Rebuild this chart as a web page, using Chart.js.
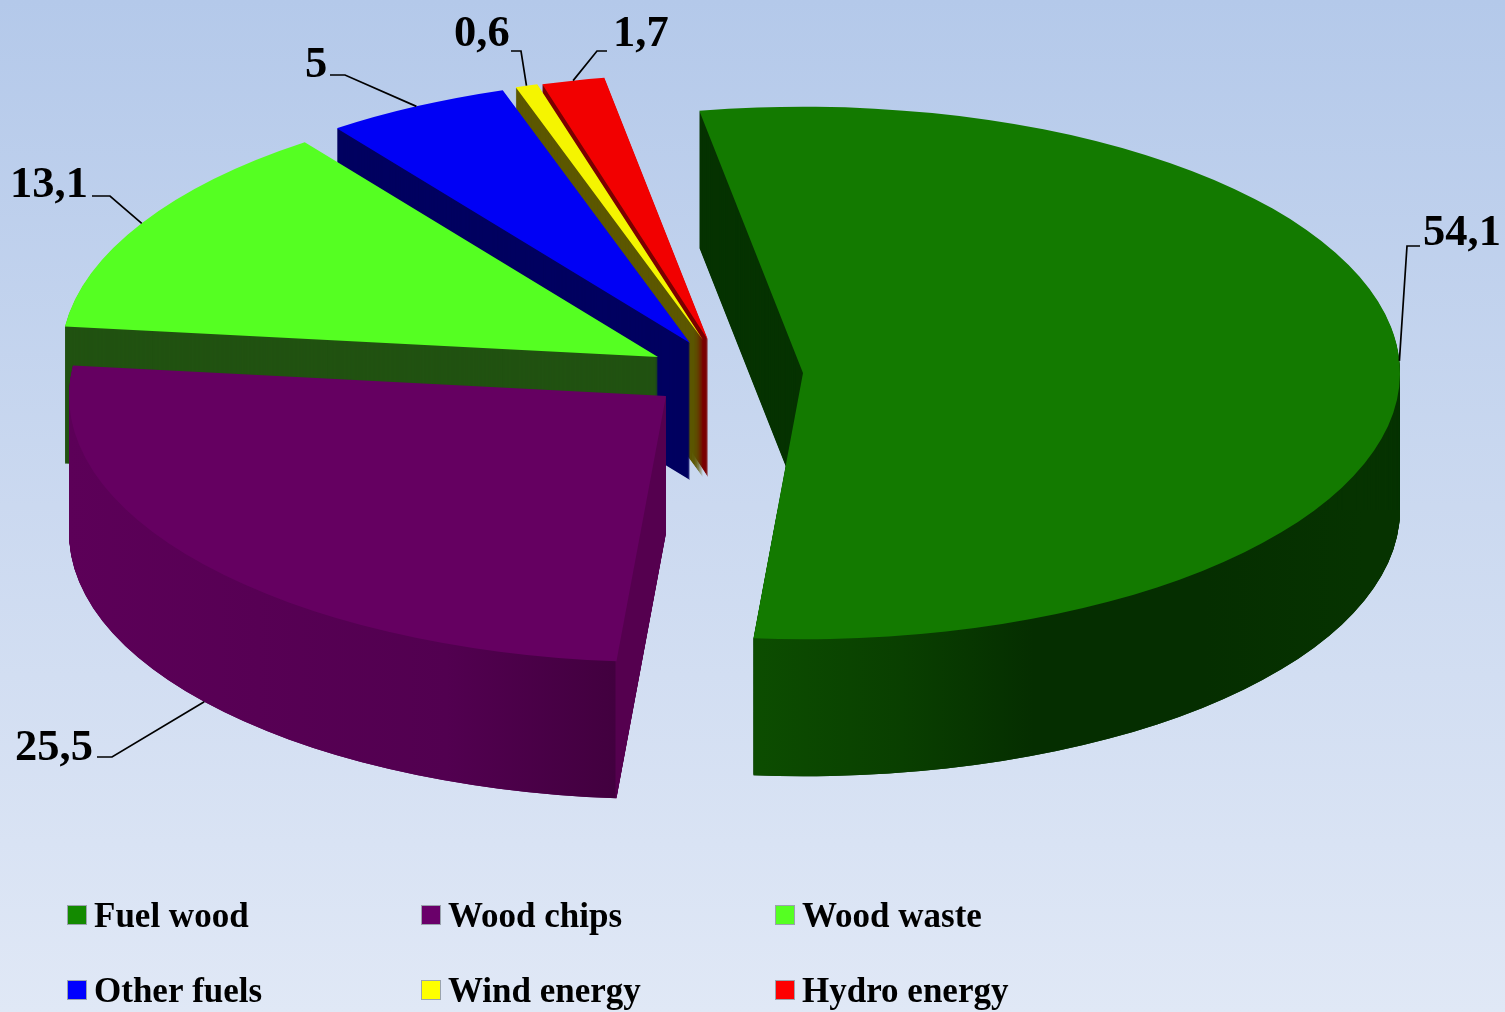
<!DOCTYPE html>
<html>
<head>
<meta charset="utf-8">
<title>Energy sources</title>
<script src="https://cdn.jsdelivr.net/npm/chart.js@4/dist/chart.umd.min.js"></script>
<style>
  html, body { margin: 0; padding: 0; }
  body { width: 1505px; height: 1012px; overflow: hidden; background: linear-gradient(180deg, #b4c9ea 0%, #cbd9f0 50%, #e0e8f6 100%); }
  canvas { display: block; }
</style>
</head>
<body>
<canvas id="pie" width="1505" height="1012"></canvas>
<script>
// === Data ===
const categories = ["Fuel wood", "Wood chips", "Wood waste", "Other fuels", "Wind energy", "Hydro energy"];
const shares = [54.1, 25.5, 13.1, 5, 0.6, 1.7];

// === Colours ===
const topColors = ["#137a00", "#650061", "#55ff22", "#0000f5", "#f5f500", "#f20000"];
const legendColors = ["#138a00", "#6a006a", "#55ff22", "#0000ff", "#ffff00", "#ff0000"];
const sideColors = ["#063300", "#55004f", "#215211", "#000060", "#5c5700", "#7a0000"];

// Shading of the curved wall, x measured from the slice apex
const curvedWall = {
  0: [[-50, "#0c4d00"], [100, "#093f00"], [230, "#052e00"], [400, "#052e00"], [560, "#063300"], [597, "#063300"]],
  1: [[-597, "#5c0058"], [-220, "#520050"], [-51, "#42003f"], [-50, "#55004f"], [0, "#55004f"]]
};

// === Pie geometry ===
const tilt = 0.446;     // vertical squash of the circle
const depth = 137;      // height of the wall
const pieRadius = 597;
// how far each slice is pulled from the centre (x, y)
const shiftX = [83, -54, -62, -30, -17, -12];
const shiftY = [13, 36, -3, -17, -20, -20];
const paintOrder = [5, 4, 3, 2, 1, 0];

// Label placement: leader elbow, leader end, text start, baseline
const labelSpots = [
  { elbow: [1407, 246], end: [1420, 246], text: [1423, 245] },
  { elbow: [112, 757], end: [97, 757], text: [15, 760] },
  { elbow: [110, 196], end: [92, 196], text: [10, 197] },
  { elbow: [345, 75], end: [330, 75], text: [305, 77] },
  { elbow: [521, 51], end: [511, 51], text: [454, 46] },
  { elbow: [597, 51], end: [607, 51], text: [613, 46] }
];
const frontAnchor = [false, true, false, false, false, false];

// Fills the same arc element under the tilted transform of a slice
function paintArc(ctx, arc, i, drop, fill) {
  const saved = arc.options;
  arc.options = Object.assign({}, saved, { backgroundColor: fill });
  ctx.save();
  ctx.translate(arc.x + shiftX[i], arc.y + shiftY[i] + drop);
  ctx.scale(1, tilt);
  ctx.translate(-arc.x, -arc.y);
  arc.draw(ctx);
  ctx.restore();
  arc.options = saved;
}

function wallGradient(ctx, arc, stops) {
  const g = ctx.createLinearGradient(arc.x - pieRadius, 0, arc.x + pieRadius, 0);
  stops.forEach(([x, color]) => g.addColorStop((x + pieRadius) / (2 * pieRadius), color));
  return g;
}

const tiltedPie = {
  id: "tiltedPie",
  beforeDatasetsDraw(chart) {
    const ctx = chart.ctx;
    const arcs = chart.getDatasetMeta(0).data;

    paintOrder.forEach(i => {
      const arc = arcs[i];
      for (let d = depth; d > 0; d--) paintArc(ctx, arc, i, d, sideColors[i]);

      if (curvedWall[i]) {
        const fill = wallGradient(ctx, arc, curvedWall[i]);
        ctx.save();
        ctx.beginPath();
        // fuel wood: the cut face stays flat, only the lower part gets the shading
        ctx.rect(0, i === 0 ? arc.y + shiftY[i] + depth : 0, chart.width, chart.height);
        ctx.clip();
        for (let d = depth; d > 0; d--) paintArc(ctx, arc, i, d, fill);
        ctx.restore();
      }
      paintArc(ctx, arc, i, 0, topColors[i]);
    });

    drawLabels(ctx, arcs);
    drawLegend(ctx);
    return false;
  }
};

function drawLabels(ctx, arcs) {
  ctx.save();
  ctx.fillStyle = "#000";
  ctx.strokeStyle = "#000";
  ctx.lineWidth = 1.7;
  ctx.font = "bold 44.5px 'Liberation Serif'";
  ctx.textBaseline = "alphabetic";
  arcs.forEach((arc, i) => {
    const mid = (arc.startAngle + arc.endAngle) / 2;
    const spot = labelSpots[i];
    const ax = arc.x + shiftX[i] + Math.cos(mid) * arc.outerRadius;
    const ay = arc.y + shiftY[i] + Math.sin(mid) * arc.outerRadius * tilt + (frontAnchor[i] ? depth : 0);
    ctx.beginPath();
    ctx.moveTo(ax, ay);
    ctx.lineTo(spot.elbow[0], spot.elbow[1]);
    ctx.lineTo(spot.end[0], spot.end[1]);
    ctx.stroke();
    ctx.fillText(String(shares[i]).replace(".", ","), spot.text[0], spot.text[1]);
  });
  ctx.restore();
}

function drawLegend(ctx) {
  ctx.save();
  ctx.font = "bold 35px 'Liberation Serif'";
  ctx.textBaseline = "alphabetic";
  categories.forEach((name, i) => {
    const x = 67 + (i % 3) * 354;
    const y = 905 + Math.floor(i / 3) * 75;
    ctx.fillStyle = legendColors[i];
    ctx.strokeStyle = "#9aa3ad";
    ctx.lineWidth = 1;
    ctx.fillRect(x, y, 20, 20);
    ctx.strokeRect(x + 0.5, y + 0.5, 19, 19);
    ctx.fillStyle = "#000";
    ctx.fillText(name, x + 27, y + 22);
  });
  ctx.restore();
}

new Chart(document.getElementById("pie"), {
  type: "pie",
  data: {
    labels: categories,
    datasets: [{ data: shares, backgroundColor: topColors, borderWidth: 0 }]
  },
  options: {
    responsive: false,
    animation: false,
    rotation: -10,
    radius: pieRadius,
    layout: { padding: { right: 65, bottom: 292 } },   // puts the centre at 720, 360
    plugins: { legend: { display: false }, tooltip: { enabled: false } }
  },
  plugins: [tiltedPie]
});
</script>
</body>
</html>
